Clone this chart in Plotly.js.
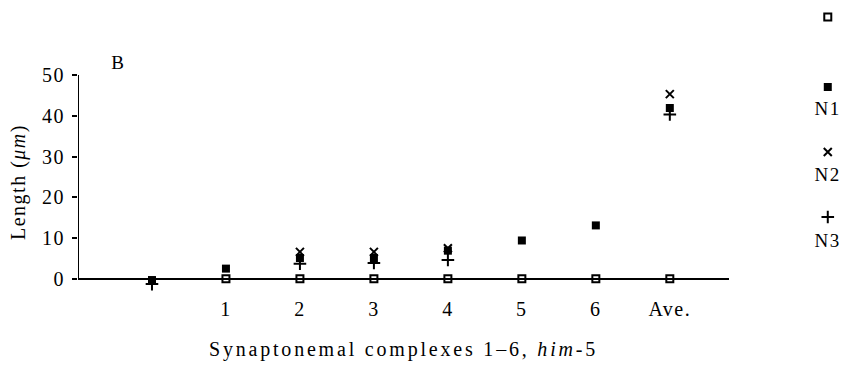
<!DOCTYPE html>
<html><head><meta charset="utf-8">
<script src="https://cdn.plot.ly/plotly-3.0.1.min.js"></script>
<style>
html,body{margin:0;padding:0;background:#fff}
#chart text{letter-spacing:1.5px}
#chart .g-xtitle text{letter-spacing:2.8px}
</style>
</head><body><div id="chart" style="width:857px;height:365px"></div>
<script>
// ---- data ----
const tickPositions = [1, 2, 3, 4, 5, 6, 7];
const tickLabels = ['1', '2', '3', '4', '5', '6', 'Ave.'];
const openX = [1, 2, 3, 4, 5, 6, 7];
const openY = [0, 0, 0, 0, 0, 0, 0];
const n1X = [0, 1, 2, 3, 4, 5, 6, 7];
const n1Y = [-0.3, 2.5, 5.1, 5.1, 6.9, 9.4, 13.1, 41.9];
const n2X = [2, 3, 4, 7];
const n2Y = [6.6, 6.6, 7.5, 45.3];
const n3X = [0, 2, 3, 4, 7];
const n3Y = [-1.3, 3.7, 3.9, 4.6, 40.3];
const seriesNames = ['', 'N1', 'N2', 'N3'];
const seriesSymbols = ['square-open', 'square', 'x-thin', 'cross-thin'];
const yTicks = [0, 10, 20, 30, 40, 50];

// ---- styles ----
const FONT = 'Liberation Serif, Times New Roman, serif';
const markerStyles = [
  {symbol: seriesSymbols[0], size: 7, color: '#000', line: {color: '#000', width: 2}},
  {symbol: seriesSymbols[1], size: 8, color: '#000', line: {width: 0}},
  {symbol: seriesSymbols[2], size: 8, color: '#000', line: {color: '#000', width: 2}},
  {symbol: seriesSymbols[3], size: 9, color: '#000', line: {color: '#000', width: 2}}
];
const seriesX = [openX, n1X, n2X, n3X];
const seriesY = [openY, n1Y, n2Y, n3Y];

const traces = seriesX.map((xs, i) => ({
  type: 'scatter', mode: 'markers', x: xs, y: seriesY[i],
  marker: markerStyles[i], cliponaxis: false, showlegend: false,
  xaxis: 'x', yaxis: 'y', hoverinfo: 'skip'
}));

// custom legend: symbol above label, drawn on a hidden axis pair
const legendY = [272, 202, 137, 72];
const legendLabelY = [null, 181, 115, 49];
seriesSymbols.forEach((s, i) => {
  traces.push({
    type: 'scatter', mode: 'markers', x: [0.5], y: [legendY[i]],
    marker: markerStyles[i], cliponaxis: false, showlegend: false,
    xaxis: 'x2', yaxis: 'y2', hoverinfo: 'skip'
  });
});

const annotations = [
  {text: 'B', xref: 'paper', yref: 'y2', x: 0.042, y: 227, showarrow: false,
   font: {family: FONT, size: 19, color: '#000'}}
];
seriesNames.forEach((n, i) => {
  if (!n) return;
  annotations.push({text: n, xref: 'x2', yref: 'y2', x: 0.505, y: legendLabelY[i],
    showarrow: false, font: {family: FONT, size: 19, color: '#000'}});
});

const layout = {
  width: 857, height: 365,
  margin: {l: 78, r: 10, t: 10, b: 76},
  paper_bgcolor: '#fff', plot_bgcolor: '#fff',
  font: {family: FONT, color: '#000', size: 20},
  xaxis: {
    domain: [0, 651 / 769], range: [-1, 7.8],
    tickvals: tickPositions, ticktext: tickLabels,
    showgrid: false, showline: false,
    zeroline: false, ticks: '', ticklabelstandoff: 6,
    tickfont: {family: FONT, size: 20, color: '#000'},
    title: {text: 'Synaptonemal complexes 1–6, <i>him</i>-5', standoff: 22,
            font: {family: FONT, size: 20, color: '#000'}}
  },
  yaxis: {
    domain: [0, 214 / 279], range: [-2.5, 50],
    tickvals: yTicks, ticks: 'outside', ticklen: 5, tickwidth: 2, tickcolor: '#000',
    showgrid: false, showline: false,
    zeroline: true, zerolinecolor: '#000', zerolinewidth: 2,
    ticklabelstandoff: 3,
    tickfont: {family: FONT, size: 20, color: '#000'},
    title: {text: 'Length (<i>μm</i>)', standoff: 14,
            font: {family: FONT, size: 20, color: '#000'}}
  },
  xaxis2: {domain: [0.95, 1], range: [0, 1], visible: false, anchor: 'y2'},
  yaxis2: {domain: [0, 1], range: [0, 279], visible: false, anchor: 'x2'},
  shapes: [
    {type: 'line', xref: 'x', yref: 'y', x0: -1, x1: -1, y0: 0, y1: 50,
     line: {color: '#000', width: 2}, layer: 'below'}
  ],
  annotations: annotations
};

Plotly.newPlot('chart', traces, layout, {staticPlot: true, displayModeBar: false});
</script>
</body></html>
